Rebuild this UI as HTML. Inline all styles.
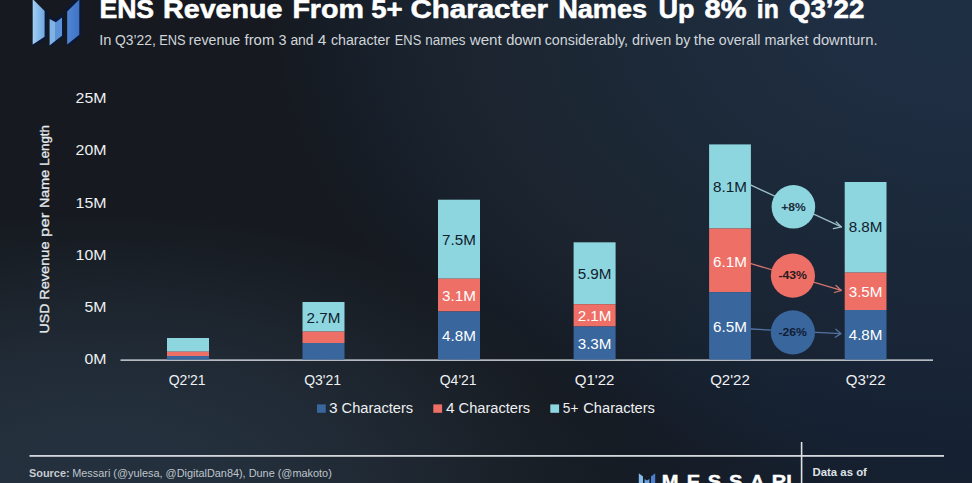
<!DOCTYPE html>
<html lang="en">
<head>
<meta charset="utf-8">
<title>ENS Revenue From 5+ Character Names Up 8% in Q3’22</title>
<style>
html,body{margin:0;padding:0;}
body{width:972px;height:483px;overflow:hidden;background:#161a22;font-family:"Liberation Sans",sans-serif;}
#stage{position:relative;width:972px;height:483px;overflow:hidden;
  background:
    radial-gradient(ellipse 520px 270px at 100px 483px, rgba(36,48,61,1) 0%, rgba(36,48,61,0.97) 25%, rgba(36,48,61,0.72) 50%, rgba(36,48,61,0.42) 70%, rgba(36,48,61,0.20) 85%, rgba(36,48,61,0) 100%),
    radial-gradient(ellipse 450px 400px at 972px 483px, rgba(20,38,66,0.45) 0%, rgba(20,38,66,0.40) 30%, rgba(20,38,66,0.25) 60%, rgba(20,38,66,0.15) 75%, rgba(20,38,66,0) 100%),
    radial-gradient(ellipse 700px 490px at 972px 0px, #1f2f43 0%, #1f2e42 20%, #1c2938 48%, #1c2530 70%, #18212c 83%, #161d27 91%, #161a20 100%);
}
svg{position:absolute;left:0;top:0;}
text{font-family:"Liberation Sans",sans-serif;}
</style>
</head>
<body>
<div id="stage">
<svg width="972" height="483" viewBox="0 0 972 483">
  <!-- LOGO -->
  <g id="logo">
    <defs>
      <linearGradient id="lgL" x1="0" x2="1" y1="0" y2="0"><stop offset="0" stop-color="#a3cff4"/><stop offset="0.5" stop-color="#86bbec"/><stop offset="1" stop-color="#72a8e0"/></linearGradient>
      <linearGradient id="lgR" x1="0" x2="1" y1="0" y2="0"><stop offset="0" stop-color="#4f86d3"/><stop offset="1" stop-color="#3f73c6"/></linearGradient>
    </defs>
    <!-- dark navy faces -->
    <polygon points="44.6,10.9 47.2,9 47.2,38.2 34.5,46.2 32.7,44.5 44.6,36.7" fill="#0b1836"/>
    <polygon points="49.6,19.1 49.6,15.6 55.8,19.2 62,14.2 64.3,13.6 64.3,36.6 51.4,47 49.6,45.5 62,35.7 62,17.6 55.8,22.3" fill="#0b1836"/>
    <polygon points="67.2,11.4 65.0,9.6 76.5,-2 79.3,-0.5" fill="#0b1836"/>
    <polygon points="67.2,44.5 69,46.2 81.2,36 81.2,0 79.3,0 79.3,34.7" fill="#0b1836"/>
    <!-- left pillar -->
    <polygon points="32.7,-1 44.6,10.9 44.6,36.7 32.7,44.5" fill="url(#lgL)"/>
    <!-- middle chevron -->
    <polygon points="49.6,19.1 55.8,22.3 55.8,40.5 49.6,45.5" fill="#7fb3e7"/>
    <polygon points="55.8,22.3 62,17.6 62,35.7 55.8,40.5" fill="#5c92d7"/>
    <!-- right pillar -->
    <polygon points="67.2,11.4 79.3,-0.5 79.3,34.7 67.2,44.5" fill="url(#lgR)"/>
  </g>
  <!-- TITLE -->
  <g id="titles">
    <text y="18.2" font-size="25" font-weight="700" fill="#ffffff" stroke="#ffffff" stroke-width="0.55" stroke-linejoin="round"><tspan x="99.4" textLength="54.7" lengthAdjust="spacingAndGlyphs">ENS</tspan> <tspan x="163.0" textLength="119.5" lengthAdjust="spacingAndGlyphs">Revenue</tspan> <tspan x="292.4" textLength="71.5" lengthAdjust="spacingAndGlyphs">From</tspan> <tspan x="371.3" textLength="31.4" lengthAdjust="spacingAndGlyphs">5+</tspan> <tspan x="410.5" textLength="137.6" lengthAdjust="spacingAndGlyphs">Character</tspan> <tspan x="558.2" textLength="88.9" lengthAdjust="spacingAndGlyphs">Names</tspan> <tspan x="658.6" textLength="36.0" lengthAdjust="spacingAndGlyphs">Up</tspan> <tspan x="704.6" textLength="42.1" lengthAdjust="spacingAndGlyphs">8%</tspan> <tspan x="756.8" textLength="22.0" lengthAdjust="spacingAndGlyphs">in</tspan> <tspan x="788.9" textLength="75.5" lengthAdjust="spacingAndGlyphs">Q3’22</tspan></text>
    <text y="45.4" font-size="14.7" fill="#d0d5da"><tspan x="99.3" textLength="12.2" lengthAdjust="spacingAndGlyphs">In</tspan> <tspan x="114.9" textLength="40.9" lengthAdjust="spacingAndGlyphs">Q3’22,</tspan> <tspan x="159.2" textLength="26.4" lengthAdjust="spacingAndGlyphs">ENS</tspan> <tspan x="188.8" textLength="51.4" lengthAdjust="spacingAndGlyphs">revenue</tspan> <tspan x="244.5" textLength="29.8" lengthAdjust="spacingAndGlyphs">from</tspan> <tspan x="278.5" textLength="8.0" lengthAdjust="spacingAndGlyphs">3</tspan> <tspan x="290.4" textLength="23.2" lengthAdjust="spacingAndGlyphs">and</tspan> <tspan x="317.8" textLength="8.6" lengthAdjust="spacingAndGlyphs">4</tspan> <tspan x="330.9" textLength="59.2" lengthAdjust="spacingAndGlyphs">character</tspan> <tspan x="394.8" textLength="26.4" lengthAdjust="spacingAndGlyphs">ENS</tspan> <tspan x="425.2" textLength="40.4" lengthAdjust="spacingAndGlyphs">names</tspan> <tspan x="469.7" textLength="32.1" lengthAdjust="spacingAndGlyphs">went</tspan> <tspan x="506.2" textLength="35.2" lengthAdjust="spacingAndGlyphs">down</tspan> <tspan x="544.7" textLength="83.3" lengthAdjust="spacingAndGlyphs">considerably,</tspan> <tspan x="632.1" textLength="39.3" lengthAdjust="spacingAndGlyphs">driven</tspan> <tspan x="675.3" textLength="15.1" lengthAdjust="spacingAndGlyphs">by</tspan> <tspan x="693.8" textLength="21.3" lengthAdjust="spacingAndGlyphs">the</tspan> <tspan x="718.8" textLength="41.6" lengthAdjust="spacingAndGlyphs">overall</tspan> <tspan x="764.6" textLength="44.0" lengthAdjust="spacingAndGlyphs">market</tspan> <tspan x="812.7" textLength="64.9" lengthAdjust="spacingAndGlyphs">downturn.</tspan></text>
  </g>
  <!-- AXES -->
  <g id="axes" font-size="14" fill="#eef0f2">
    <g text-anchor="end" lengthAdjust="spacingAndGlyphs">
      <text x="106.5" y="103.2" textLength="30.9" lengthAdjust="spacingAndGlyphs">25M</text>
      <text x="106.5" y="155.4" textLength="30.9" lengthAdjust="spacingAndGlyphs">20M</text>
      <text x="106.5" y="207.5" textLength="30.9" lengthAdjust="spacingAndGlyphs">15M</text>
      <text x="106.5" y="259.6" textLength="30.9" lengthAdjust="spacingAndGlyphs">10M</text>
      <text x="106.5" y="312.0" textLength="22" lengthAdjust="spacingAndGlyphs">5M</text>
      <text x="106.5" y="363.8" textLength="22" lengthAdjust="spacingAndGlyphs">0M</text>
    </g>
    <text transform="translate(48.5,229.3) rotate(-90)" y="0" font-size="13.6" fill="#e6e9ec" stroke="#e6e9ec" stroke-width="0.3"><tspan x="-104.1" textLength="29.9" lengthAdjust="spacingAndGlyphs">USD</tspan> <tspan x="-70.5" textLength="58.3" lengthAdjust="spacingAndGlyphs">Revenue</tspan> <tspan x="-7.6" textLength="24.2" lengthAdjust="spacingAndGlyphs">per</tspan> <tspan x="21.2" textLength="38.3" lengthAdjust="spacingAndGlyphs">Name</tspan> <tspan x="63.6" textLength="40.6" lengthAdjust="spacingAndGlyphs">Length</tspan></text>
    <rect x="120.5" y="359.4" width="812.5" height="1.5" fill="#c9cdd2"/>
    <g text-anchor="middle">
      <text x="187.2" y="385.4">Q2'21</text>
      <text x="322.6" y="385.4">Q3'21</text>
      <text x="458.2" y="385.4">Q4'21</text>
      <text x="594.6" y="385.4" textLength="39.7" lengthAdjust="spacingAndGlyphs">Q1'22</text>
      <text x="730.0" y="385.4" textLength="39.7" lengthAdjust="spacingAndGlyphs">Q2'22</text>
      <text x="865.7" y="385.4" textLength="39.7" lengthAdjust="spacingAndGlyphs">Q3'22</text>
    </g>
  </g>
  <!-- BARS -->
  <g id="bars" font-size="14" text-anchor="middle">
    <rect x="167.0" y="338.0" width="42" height="13.7" fill="#8dd6e0"/>
    <rect x="167.0" y="351.7" width="42" height="4.3" fill="#ee6f66"/>
    <rect x="167.0" y="356.0" width="42" height="3.6" fill="#39669c"/>
    <rect x="302.5" y="302.0" width="42" height="29.6" fill="#8dd6e0"/>
    <rect x="302.5" y="331.6" width="42" height="11.4" fill="#ee6f66"/>
    <rect x="302.5" y="343.0" width="42" height="16.6" fill="#39669c"/>
    <text x="323.5" y="322.6" fill="#10202c" textLength="33.8" lengthAdjust="spacingAndGlyphs">2.7M</text>
    <rect x="438.0" y="199.7" width="42" height="79.0" fill="#8dd6e0"/>
    <rect x="438.0" y="278.7" width="42" height="32.8" fill="#ee6f66"/>
    <rect x="438.0" y="311.5" width="42" height="48.1" fill="#39669c"/>
    <text x="459.0" y="245.0" fill="#10202c" textLength="33.8" lengthAdjust="spacingAndGlyphs">7.5M</text>
    <text x="459.0" y="301.4" fill="#ffffff" textLength="33.8" lengthAdjust="spacingAndGlyphs">3.1M</text>
    <text x="459.0" y="340.6" fill="#ffffff" textLength="33.8" lengthAdjust="spacingAndGlyphs">4.8M</text>
    <rect x="573.6" y="242.3" width="42" height="61.9" fill="#8dd6e0"/>
    <rect x="573.6" y="304.2" width="42" height="22.3" fill="#ee6f66"/>
    <rect x="573.6" y="326.5" width="42" height="33.1" fill="#39669c"/>
    <text x="594.6" y="278.8" fill="#10202c" textLength="33.8" lengthAdjust="spacingAndGlyphs">5.9M</text>
    <text x="594.6" y="320.6" fill="#ffffff" textLength="33.8" lengthAdjust="spacingAndGlyphs">2.1M</text>
    <text x="594.6" y="348.8" fill="#ffffff" textLength="33.8" lengthAdjust="spacingAndGlyphs">3.3M</text>
    <rect x="709.1" y="144.4" width="41.8" height="84.1" fill="#8dd6e0"/>
    <rect x="709.1" y="228.5" width="41.8" height="63.6" fill="#ee6f66"/>
    <rect x="709.1" y="292.1" width="41.8" height="67.5" fill="#39669c"/>
    <text x="730.0" y="192.1" fill="#10202c" textLength="33.8" lengthAdjust="spacingAndGlyphs">8.1M</text>
    <text x="730.0" y="267.0" fill="#ffffff" textLength="33.8" lengthAdjust="spacingAndGlyphs">6.1M</text>
    <text x="730.0" y="331.8" fill="#ffffff" textLength="33.8" lengthAdjust="spacingAndGlyphs">6.5M</text>
    <rect x="844.7" y="182.0" width="41.8" height="90.6" fill="#8dd6e0"/>
    <rect x="844.7" y="272.6" width="41.8" height="37.4" fill="#ee6f66"/>
    <rect x="844.7" y="310.0" width="41.8" height="49.6" fill="#39669c"/>
    <text x="865.6" y="232.1" fill="#10202c" textLength="33.8" lengthAdjust="spacingAndGlyphs">8.8M</text>
    <text x="865.6" y="297.0" fill="#ffffff" textLength="33.8" lengthAdjust="spacingAndGlyphs">3.5M</text>
    <text x="865.6" y="340.2" fill="#ffffff" textLength="33.8" lengthAdjust="spacingAndGlyphs">4.8M</text>
  </g>
  <!-- ANNOTATIONS -->
  <g id="annot" fill="none" stroke-linecap="round" stroke-linejoin="round">
    <g stroke="#9cbfca" stroke-width="1.3">
      <line x1="751" y1="185.2" x2="841.4" y2="226.9"/>
      <polyline points="836.2,222.0 841.4,226.9 833.4,228.7"/>
    </g>
    <g stroke="#d2746f" stroke-width="1.3">
      <line x1="751" y1="263.6" x2="841.4" y2="290.4"/>
      <polyline points="836.0,285.4 841.4,290.4 834.4,292.5"/>
    </g>
    <g stroke="#5273a4" stroke-width="1.3">
      <line x1="751" y1="329.0" x2="840.8" y2="333.6"/>
      <polyline points="835.8,329.3 840.8,333.6 835.3,337.3"/>
    </g>
    <circle cx="793.4" cy="206.8" r="21.8" fill="#8dd6e0" stroke="none"/>
    <circle cx="792.9" cy="275.6" r="22.1" fill="#ee6f66" stroke="none"/>
    <circle cx="792.9" cy="332.4" r="22.1" fill="#39669c" stroke="none"/>
    <g font-size="11.4" font-weight="700" text-anchor="middle" stroke="none">
      <text x="793.5" y="210.8" fill="#1b2b3a" textLength="24.6" lengthAdjust="spacingAndGlyphs">+8%</text>
      <text x="792.7" y="279.3" fill="#2b1a20" textLength="28.6" lengthAdjust="spacingAndGlyphs">-43%</text>
      <text x="792.7" y="336.4" fill="#111c36" textLength="28.6" lengthAdjust="spacingAndGlyphs">-26%</text>
    </g>
  </g>
  <!-- LEGEND -->
  <g id="legend" font-size="14" fill="#eef0f2">
    <rect x="317.0" y="404.4" width="8.8" height="8.4" fill="#39669c"/>
    <text y="413.2"><tspan x="329.0" textLength="8.6" lengthAdjust="spacingAndGlyphs">3</tspan> <tspan x="341.6" textLength="71.6" lengthAdjust="spacingAndGlyphs">Characters</tspan></text>
    <rect x="433.3" y="404.4" width="8.8" height="8.4" fill="#ee6f66"/>
    <text y="413.2"><tspan x="445.9" textLength="8.6" lengthAdjust="spacingAndGlyphs">4</tspan> <tspan x="458.6" textLength="71.6" lengthAdjust="spacingAndGlyphs">Characters</tspan></text>
    <rect x="550.3" y="404.4" width="8.8" height="8.4" fill="#8dd6e0"/>
    <text y="413.2"><tspan x="562.8" textLength="15.6" lengthAdjust="spacingAndGlyphs">5+</tspan> <tspan x="583.3" textLength="71.6" lengthAdjust="spacingAndGlyphs">Characters</tspan></text>
  </g>
  <!-- FOOTER -->
  <g id="footer">
    <rect x="29.5" y="455.0" width="914.5" height="1.8" fill="#d3d7db"/>
    <rect x="800.8" y="442.0" width="1.6" height="41.5" fill="#dde1e5"/>
    <text y="476.6" font-size="10.8" fill="#c6cbd0"><tspan x="29" font-weight="700" textLength="40.6" lengthAdjust="spacingAndGlyphs">Source:</tspan> <tspan x="72.2" fill="#bfc5cb" textLength="259.6" lengthAdjust="spacingAndGlyphs">Messari (@yulesa, @DigitalDan84), Dune (@makoto)</tspan></text>
    <g id="mlogo">
      <polygon points="638.8,473.3 643,476.5 643,484 638.8,484" fill="#86bbec"/>
      <polygon points="644.6,479 647,480.6 649.4,479 649.4,484 644.6,484" fill="#6a9fdc"/>
      <polygon points="651,476.5 655.2,473.3 655.2,484 651,484" fill="#4a80cf"/>
    </g>
    <text transform="scale(1.15,1)" x="582.83 602.96 621.26 639.83 658.43 677.48 686.09" y="488.3" font-size="17.5" font-weight="700" fill="#ffffff" stroke="#ffffff" stroke-width="0.4" text-anchor="middle">MESSARI</text>
    <text x="812.5" y="476.2" font-size="11" font-weight="700" fill="#dfe3e7" textLength="54.4" lengthAdjust="spacingAndGlyphs">Data as of</text>
  </g>
</svg>
</div>
</body>
</html>
